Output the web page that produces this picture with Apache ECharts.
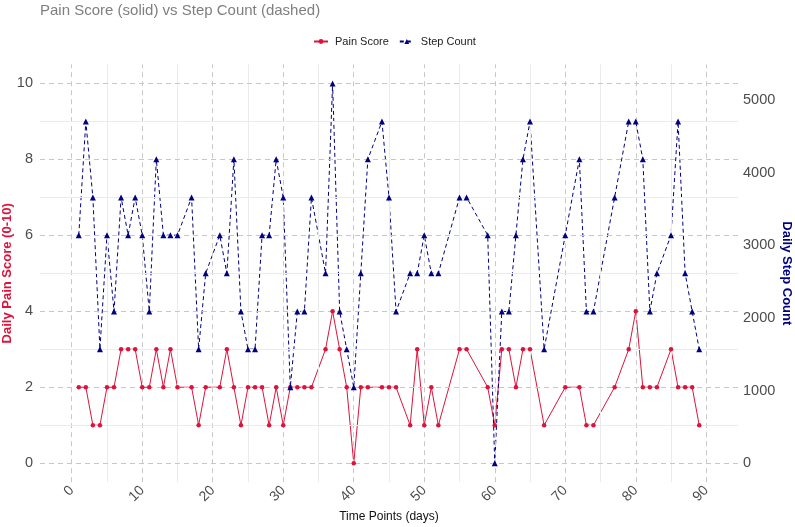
<!DOCTYPE html>
<html>
<head>
<meta charset="utf-8">
<script src="https://cdn.jsdelivr.net/npm/echarts@6/dist/echarts.min.js"></script>
<style>
  html, body { margin: 0; padding: 0; background: #fff; }
  #chart { width: 795px; height: 527px; }
</style>
</head>
<body>
<div id="chart"></div>
<script>
// days with a recorded value
const days = [1, 2, 3, 4, 5, 6, 7, 8, 9, 10, 11, 12, 13, 14, 15, 17, 18, 19,
  21, 22, 23, 24, 25, 26, 27, 28, 29, 30, 31, 32, 33, 34, 36, 37, 38, 39, 40, 41, 42,
  44, 45, 46, 48, 49, 50, 51, 52, 55, 56, 59, 60, 61, 62, 63, 64, 65, 67, 70,
  72, 73, 74, 77, 79, 80, 81, 82, 83, 85, 86, 87, 88, 89];

const painScore = [2, 2, 1, 1, 2, 2, 3, 3, 3, 2, 2, 3, 2, 3, 2, 2, 1, 2,
  2, 3, 2, 1, 2, 2, 2, 1, 2, 1, 2, 2, 2, 2, 3, 4, 3, 2, 0, 2, 2,
  2, 2, 2, 1, 3, 1, 2, 1, 3, 3, 2, 1, 3, 3, 2, 3, 3, 1, 2,
  2, 1, 1, 2, 3, 4, 2, 2, 2, 3, 2, 2, 2, 1];

const stepCount = [3140, 4705, 3660, 1570, 3140, 2090, 3660, 3140, 3660, 3140, 2090, 4185, 3140, 3140, 3140, 3660, 1570, 2615,
  3140, 2615, 4185, 2090, 1570, 1570, 3140, 3140, 4185, 3660, 1045, 2090, 2090, 3660, 2615, 5230, 2090, 1570, 1045, 2615, 4185,
  4705, 3660, 2090, 2615, 2615, 3140, 2615, 2615, 3660, 3660, 3140, 0, 2090, 2090, 3140, 4185, 4705, 1570, 3140,
  4185, 2090, 2090, 3660, 4705, 4705, 4185, 2090, 2615, 3140, 4705, 2615, 2090, 1570];

const xTicks = [0, 10, 20, 30, 40, 50, 60, 70, 80, 90];
const xMinor = [5, 15, 25, 35, 45, 55, 65, 75, 85];
const painTicks = [0, 2, 4, 6, 8, 10];
const painMinor = [1, 3, 5, 7, 9];
const stepTicks = [0, 1000, 2000, 3000, 4000, 5000];

// steps per pain unit on the secondary axis
const stepScale = 523;

const FONT = '"Liberation Sans", Arial, sans-serif';
const RED = '#DC143C';
const NAVY = '#000080';

const painPoints = days.map((d, i) => [d, painScore[i]]);
const stepPoints = days.map((d, i) => [d, stepCount[i]]);

const gridLines = [].concat(
  xTicks.map(v => ({ xAxis: v, lineStyle: { color: '#c8c8c8', type: [5, 4], width: 1 } })),
  xMinor.map(v => ({ xAxis: v, lineStyle: { color: '#ebebeb', type: 'solid', width: 1 } })),
  painTicks.map(v => ({ yAxis: v, lineStyle: { color: '#c8c8c8', type: [5, 4], width: 1 } })),
  painMinor.map(v => ({ yAxis: v, lineStyle: { color: '#ebebeb', type: 'solid', width: 1 } }))
);

const chart = echarts.init(document.getElementById('chart'), null, { renderer: 'canvas' });

chart.setOption({
  animation: false,
  backgroundColor: '#fff',
  textStyle: { fontFamily: FONT },
  title: {
    text: 'Pain Score (solid) vs Step Count (dashed)',
    left: 38,
    top: 1,
    padding: [2, 2, 2, 2],
    textStyle: { fontFamily: FONT, fontSize: 15, fontWeight: 'normal', color: '#7f7f7f' }
  },
  legend: {
    top: 31,
    left: 308,
    itemWidth: 14,
    itemHeight: 6,
    itemGap: 10,
    textStyle: { fontFamily: FONT, fontSize: 11, color: '#222', padding: [0, 0, 0, 2] },
    data: ['Pain Score', 'Step Count']
  },
  grid: {
    left: 40, right: 57, top: 64.4, bottom: 44.8,
    containLabel: false,
    outerBoundsMode: 'none'
  },
  xAxis: {
    type: 'value',
    min: -4.5,
    max: 94.5,
    name: 'Time Points (days)',
    nameLocation: 'middle',
    nameGap: 28,
    nameMoveOverlap: false,
    nameTextStyle: { fontFamily: FONT, fontSize: 12, color: '#111' },
    axisLine: { show: false },
    axisTick: { show: false },
    splitLine: { show: false },
    axisLabel: {
      customValues: xTicks,
      rotate: 45,
      margin: 6,
      fontFamily: FONT,
      fontSize: 14,
      color: '#4d4d4d'
    }
  },
  yAxis: [
    {
      type: 'value',
      min: -0.5,
      max: 10.5,
      name: 'Daily Pain Score (0-10)',
      nameLocation: 'middle',
      nameGap: 26,
      nameMoveOverlap: false,
      nameTextStyle: { fontFamily: FONT, fontSize: 13, fontWeight: 'bold', color: RED },
      axisLine: { show: false },
      axisTick: { show: false },
      splitLine: { show: false },
      axisLabel: { customValues: painTicks, margin: 7, fontFamily: FONT, fontSize: 14.5, color: '#4d4d4d' }
    },
    {
      type: 'value',
      position: 'right',
      min: -0.5 * stepScale,
      max: 10.5 * stepScale,
      name: 'Daily Step Count',
      nameLocation: 'middle',
      nameRotate: -90,
      nameGap: 42,
      nameMoveOverlap: false,
      nameTextStyle: { fontFamily: FONT, fontSize: 13, fontWeight: 'bold', color: NAVY },
      axisLine: { show: false },
      axisTick: { show: false },
      splitLine: { show: false },
      axisLabel: {
        customValues: stepTicks,
        formatter: v => String(v),
        margin: 5,
        fontFamily: FONT,
        fontSize: 14.5,
        color: '#4d4d4d'
      }
    }
  ],
  series: [
    {
      name: 'grid',
      type: 'line',
      data: [],
      z: 1,
      silent: true,
      markLine: {
        silent: true,
        symbol: 'none',
        label: { show: false },
        emphasis: { disabled: true },
        data: gridLines
      }
    },
    {
      name: 'Pain Score',
      type: 'line',
      z: 3,
      data: painPoints,
      symbol: 'circle',
      symbolSize: 5,
      showSymbol: false,
      color: RED,
      lineStyle: { width: 1, color: RED },
      itemStyle: { color: RED },
      emphasis: { disabled: true }
    },
    {
      name: 'Step Count',
      type: 'line',
      yAxisIndex: 1,
      z: 4,
      data: stepPoints,
      symbol: 'triangle',
      symbolSize: 6,
      showSymbol: false,
      color: NAVY,
      lineStyle: { width: 1, type: [4, 3], color: NAVY },
      itemStyle: { color: NAVY },
      emphasis: { disabled: true }
    },
    {
      name: 'Pain Score',
      type: 'scatter',
      z: 5,
      data: painPoints,
      symbol: 'circle',
      symbolSize: 4.5,
      itemStyle: { color: RED, opacity: 1 },
      emphasis: { disabled: true }
    },
    {
      name: 'Step Count',
      type: 'scatter',
      yAxisIndex: 1,
      z: 6,
      data: stepPoints,
      symbol: 'triangle',
      symbolSize: 6,
      itemStyle: { color: NAVY, opacity: 1 },
      emphasis: { disabled: true }
    }
  ]
});
</script>
</body>
</html>
